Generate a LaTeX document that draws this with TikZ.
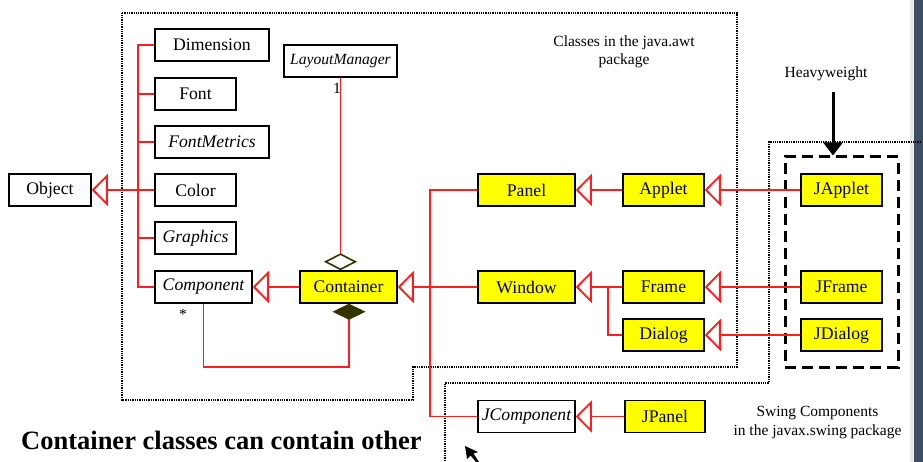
\documentclass[tikz,border=0pt]{standalone}
\usepackage{fontspec}
\setmainfont{Liberation Serif}
\usetikzlibrary{arrows.meta}
\definecolor{umlred}{RGB}{255,30,30}
\definecolor{classyellow}{RGB}{255,255,0}
\definecolor{aggolive}{RGB}{51,51,0}
\definecolor{edgebar}{RGB}{60,78,100}
\begin{document}
\begin{tikzpicture}[x=1pt,y=-1pt,
  cls/.style={draw=black, line width=1.5pt, fill=white, minimum height=32pt,
    inner sep=0pt, font=\fontsize{17.7}{20}\selectfont},
  ycls/.style={cls, fill=classyellow},
  abst/.style={cls, font=\fontsize{17.7}{20}\selectfont\itshape},
  link/.style={draw=umlred, line width=1.8pt},
  inherit/.style={link, -{Triangle[open, length=16pt, width=32pt, fill=white, line width=1.8pt]}},
  holds/.style={link, -{Diamond[open, length=17pt, width=33pt, color=aggolive, fill=white, line width=1.6pt]}},
  owns/.style={link, -{Diamond[length=16pt, width=33pt, color=aggolive]}},
  pkgline/.style={draw=black, line width=2.2pt, dash pattern=on 1.3pt off 1pt},
  note/.style={font=\fontsize{15.5}{18.5}\selectfont, align=center, inner sep=0pt},
]
\useasboundingbox (0,0) rectangle (923,462);

% screen edge
\fill[gray!18] (910,0) rectangle (914,462);
\fill[edgebar] (914,0) rectangle (923,462);

% package boundaries
\draw[pkgline] (122,13) -- (737,13) -- (737,367) -- (413,367) -- (413,400) -- (122,400) -- cycle;
\draw[pkgline] (921,142) -- (769,142) -- (769,383) -- (445,383) -- (445,462);

% heavyweight group
\node[draw=black, line width=3pt, dash pattern=on 11pt off 6pt, minimum width=113pt,
  minimum height=210pt, inner sep=0pt] (heavy) at (841.5,262) {};

% java.awt classes
\node[cls, minimum width=82pt] (Object) at (50,190) {Object};
\node[cls, minimum width=114pt] (Dimension) at (212,45) {Dimension};
\node[cls, minimum width=81pt] (Font) at (195.5,94) {Font};
\node[abst, minimum width=114pt] (FontMetrics) at (212,142) {FontMetrics};
\node[cls, minimum width=81pt] (Color) at (195.5,190) {Color};
\node[abst, minimum width=81pt] (Graphics) at (195.5,238) {Graphics};
\node[abst, minimum width=97pt] (Component) at (203.5,287) {Component};
\node[abst, minimum width=113pt, font=\fontsize{15.6}{18}\selectfont\itshape] (LayoutManager) at (340.5,61) {LayoutManager};
\node[ycls, minimum width=97pt] (Container) at (348.5,287) {Container};
\node[ycls, minimum width=97pt] (Panel) at (526.5,190) {Panel};
\node[ycls, minimum width=97pt] (Window) at (526.5,287) {Window};
\node[ycls, minimum width=81pt] (Applet) at (663.5,190) {Applet};
\node[ycls, minimum width=81pt] (Frame) at (663.5,287) {Frame};
\node[ycls, minimum width=81pt] (Dialog) at (663.5,335) {Dialog};

% javax.swing classes
\node[ycls, minimum width=81pt] (JApplet) at (841.5,190) {JApplet};
\node[ycls, minimum width=81pt] (JFrame) at (841.5,287) {JFrame};
\node[ycls, minimum width=81pt] (JDialog) at (841.5,335) {JDialog};
\node[abst, minimum width=97pt] (JComponent) at (526.5,416.5) {JComponent};
\node[ycls, minimum width=80pt] (JPanel) at (665,416.5) {JPanel};

% Object hierarchy
\coordinate (tree) at (138,190);
\draw[link] (Dimension.west) -| (tree |- Component.west) -- (Component.west);
\foreach \c in {Font, FontMetrics, Color, Graphics}
  \draw[link] (\c.west) -- (\c.west -| tree);
\draw[inherit] (tree) -- (Object.east);

% Component / Container
\draw[inherit] (Container.west) -- (Component.east);
\draw[holds] (LayoutManager.south) -- (Container.north -| LayoutManager.south);
\coordinate (ownbase) at (349,367);
\draw[owns] (Component.south) |- (ownbase) -- (ownbase |- Container.south);
\node[note] (one) at (337,88) {1};
\node[note] (many) at (183,314) {*};

% Container subclasses
\coordinate (bus) at (430,416.5);
\draw[inherit] (Window.west) -- (Container.east);
\draw[link] (Panel.west) -| (bus) -- (JComponent.west);
\draw[inherit] (Applet.west) -- (Panel.east);
\draw[inherit] (Frame.west) -- (Window.east);
\coordinate (split) at (608,287);
\draw[link] (Dialog.west) -| (split);

% swing subclasses
\draw[inherit] (JApplet.west) -- (Applet.east);
\draw[inherit] (JFrame.west) -- (Frame.east);
\draw[inherit] (JDialog.west) -- (Dialog.east);
\draw[inherit] (JPanel.west) -- (JComponent.east);

% labels
\node[note] (awt) at (624,52) {Classes in the java.awt\\package};
\node[note] (hw) at (826,74) {Heavyweight};
\coordinate (hwtail) at (833,92);
\draw[line width=3pt, -{Triangle[length=13pt, width=19pt]}] (hwtail) -- (hwtail |- heavy.north);
\node[note] (swing) at (817.5,422.5) {Swing Components\\in the javax.swing package};
\node[anchor=base west, inner sep=0pt, font=\fontsize{26.5}{30}\selectfont\bfseries] (title) at (21,449)
  {Container classes can contain other};

% mouse pointer
\fill[black] (465,446) -- (467,459) -- (470.5,455.5) -- (476,462) -- (479,462) -- (473.5,453.5) -- (478,452) -- cycle;
\end{tikzpicture}
\end{document}
